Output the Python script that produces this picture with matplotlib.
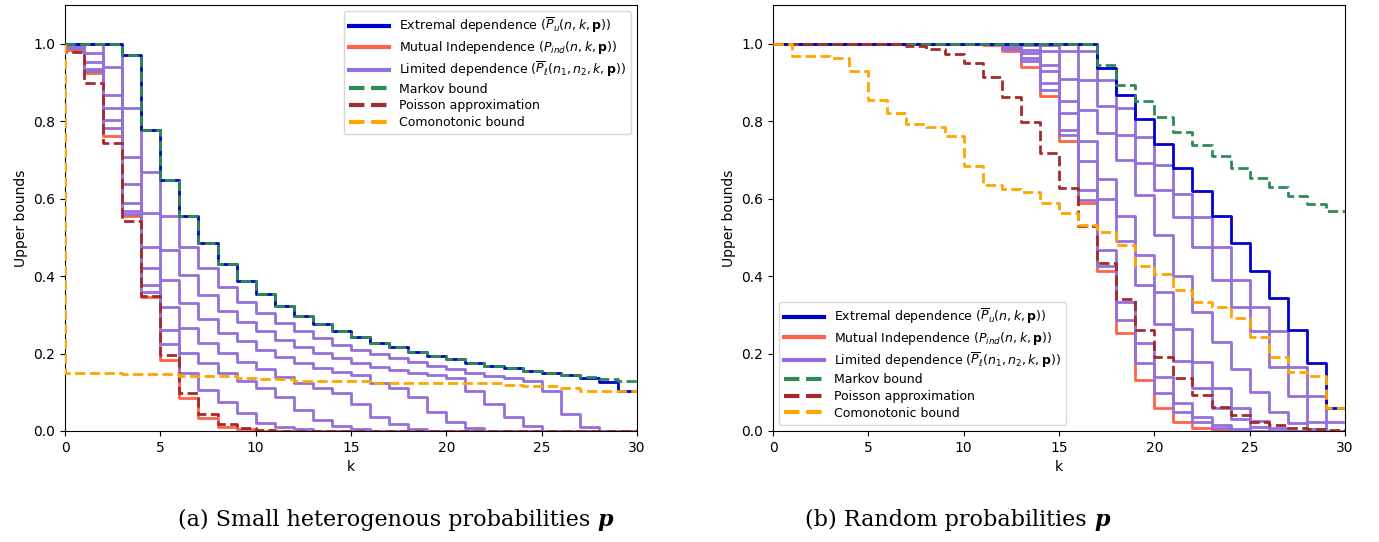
import numpy as np
import matplotlib.pyplot as plt
from matplotlib.lines import Line2D

# k = 0..30 ; each value is the bound for P(S >= k), drawn as a 'pre' step
k = np.arange(31)

# ---------------- (a) small heterogeneous probabilities ----------------
a_markov = [1.0, 1.0, 1.0, 1.0, 0.970, 0.776, 0.647, 0.554, 0.485, 0.431, 0.388,
            0.353, 0.323, 0.298, 0.277, 0.259, 0.243, 0.228, 0.216, 0.204, 0.194,
            0.185, 0.176, 0.169, 0.162, 0.155, 0.149, 0.144, 0.139, 0.134, 0.129]
a_extremal = [1.0, 1.0, 1.0, 1.0, 0.970, 0.776, 0.647, 0.554, 0.485, 0.431, 0.388,
              0.353, 0.323, 0.298, 0.277, 0.259, 0.243, 0.228, 0.216, 0.204, 0.194,
              0.185, 0.176, 0.169, 0.162, 0.155, 0.149, 0.144, 0.136, 0.126, 0.102]
a_indep = [1.0, 0.985, 0.924, 0.762, 0.556, 0.347, 0.183, 0.084, 0.033, 0.011, 0.004,
           0.001, 0, 0, 0, 0, 0, 0, 0, 0, 0, 0, 0, 0, 0, 0, 0, 0, 0, 0, 0]
a_poisson = [1.0, 0.979, 0.899, 0.743, 0.542, 0.348, 0.197, 0.099, 0.044, 0.018, 0.007,
             0.002, 0.001, 0, 0, 0, 0, 0, 0, 0, 0, 0, 0, 0, 0, 0, 0, 0, 0, 0, 0]
a_comon = [1.0, 0.150, 0.150, 0.150, 0.148, 0.148, 0.148, 0.141, 0.141, 0.141, 0.138,
           0.133, 0.133, 0.130, 0.130, 0.130, 0.130, 0.124, 0.124, 0.124, 0.124,
           0.124, 0.124, 0.124, 0.119, 0.115, 0.115, 0.110, 0.102, 0.102, 0.102]
a_limited = [
    [1.0, 1.0, 1.0, 1.0, 0.834, 0.668, 0.554, 0.476, 0.420, 0.371, 0.334,
     0.304, 0.278, 0.258, 0.239, 0.223, 0.210, 0.198, 0.188, 0.177, 0.168,
     0.159, 0.151, 0.142, 0.136, 0.128, 0.102, 0.044, 0.011, 0.0, 0.0],
    [1.0, 1.0, 1.0, 0.940, 0.707, 0.562, 0.468, 0.403, 0.351, 0.311, 0.282,
     0.257, 0.235, 0.216, 0.201, 0.188, 0.175, 0.166, 0.158, 0.151, 0.145,
     0.136, 0.103, 0.070, 0.037, 0.013, 0.0, 0.0, 0.0, 0.0, 0.0],
    [1.0, 0.998, 0.976, 0.868, 0.638, 0.475, 0.390, 0.330, 0.289, 0.252, 0.233,
     0.210, 0.190, 0.175, 0.162, 0.153, 0.145, 0.123, 0.110, 0.089, 0.050,
     0.022, 0.008, 0.0, 0.0, 0.0, 0.0, 0.0, 0.0, 0.0, 0.0],
    [1.0, 0.995, 0.954, 0.834, 0.588, 0.420, 0.321, 0.265, 0.227, 0.201, 0.177,
     0.160, 0.140, 0.125, 0.110, 0.097, 0.069, 0.037, 0.017, 0.005, 0.0,
     0.0, 0.0, 0.0, 0.0, 0.0, 0.0, 0.0, 0.0, 0.0, 0.0],
    [1.0, 0.990, 0.934, 0.804, 0.567, 0.377, 0.261, 0.202, 0.176, 0.150, 0.129,
     0.110, 0.089, 0.054, 0.028, 0.012, 0.004, 0.0, 0.0, 0.0, 0.0,
     0.0, 0.0, 0.0, 0.0, 0.0, 0.0, 0.0, 0.0, 0.0, 0.0],
    [1.0, 0.988, 0.930, 0.782, 0.560, 0.360, 0.225, 0.149, 0.106, 0.076, 0.046,
     0.020, 0.011, 0.004, 0.0, 0.0, 0.0, 0.0, 0.0, 0.0, 0.0,
     0.0, 0.0, 0.0, 0.0, 0.0, 0.0, 0.0, 0.0, 0.0, 0.0],
]

# ---------------- (b) random probabilities ----------------
b_markov = [1.0] * 18 + [0.946, 0.894, 0.851, 0.812, 0.773, 0.739, 0.709, 0.679,
                         0.653, 0.630, 0.606, 0.587, 0.567]
b_extremal = [1.0] * 18 + [0.937, 0.868, 0.806, 0.742, 0.679, 0.621, 0.556, 0.485,
                           0.414, 0.344, 0.261, 0.175, 0.059]
b_indep = [1.0] * 12 + [0.997, 0.980, 0.941, 0.866, 0.748, 0.588, 0.412, 0.252,
                        0.132, 0.059, 0.022, 0.007, 0.002, 0, 0, 0, 0, 0, 0]
b_poisson = [1.0] * 7 + [0.999, 0.995, 0.987, 0.973, 0.950, 0.913, 0.862, 0.799,
                         0.718, 0.627, 0.530, 0.433, 0.341, 0.261, 0.192, 0.136,
                         0.093, 0.063, 0.041, 0.024, 0.015, 0.008, 0.004, 0.002]
b_comon = [1.0, 1.0, 0.969, 0.969, 0.963, 0.929, 0.855, 0.821, 0.792, 0.784, 0.762,
           0.685, 0.636, 0.624, 0.616, 0.588, 0.562, 0.533, 0.515, 0.479, 0.425,
           0.406, 0.363, 0.332, 0.320, 0.291, 0.242, 0.190, 0.153, 0.142, 0.059]
b_limited = [
    [1.0] * 17 + [0.980, 0.907, 0.834, 0.760, 0.687, 0.612, 0.552, 0.476, 0.390,
                  0.320, 0.257, 0.166, 0.090, 0.022],
    [1.0] * 15 + [0.997, 0.980, 0.907, 0.838, 0.765, 0.692, 0.623, 0.552, 0.476,
                  0.390, 0.320, 0.257, 0.166, 0.090, 0.022, 0.0],
    [1.0] * 13 + [0.999, 0.997, 0.980, 0.909, 0.829, 0.770, 0.700, 0.610, 0.506,
                  0.399, 0.308, 0.230, 0.160, 0.100, 0.050, 0.020, 0.005, 0.0],
    [1.0] * 13 + [0.997, 0.985, 0.946, 0.851, 0.748, 0.650, 0.555, 0.455, 0.360,
                  0.263, 0.179, 0.110, 0.060, 0.025, 0.008, 0.0, 0.0, 0.0],
    [1.0] * 13 + [0.994, 0.975, 0.929, 0.821, 0.696, 0.600, 0.490, 0.377, 0.276,
                  0.180, 0.110, 0.060, 0.030, 0.010, 0.0, 0.0, 0.0, 0.0],
    [1.0] * 13 + [0.990, 0.962, 0.898, 0.778, 0.623, 0.468, 0.334, 0.227, 0.140,
                  0.073, 0.035, 0.015, 0.005, 0.0, 0.0, 0.0, 0.0, 0.0],
    [1.0] * 13 + [0.986, 0.955, 0.881, 0.765, 0.597, 0.425, 0.287, 0.175, 0.099,
                  0.050, 0.022, 0.008, 0.002, 0.0, 0.0, 0.0, 0.0, 0.0],
]

C_EXT = 'mediumblue'
C_IND = 'tomato'
C_LIM = 'mediumpurple'
C_MAR = 'seagreen'
C_POI = 'brown'
C_COM = 'orange'

legend_labels = [
    r'Extremal dependence ($\overline{P}_u(n,k,\mathbf{p})$)',
    r'Mutual Independence ($P_{ind}(n,k,\mathbf{p})$)',
    r'Limited dependence ($\overline{P}_\ell(n_1,n_2,k,\mathbf{p})$)',
    'Markov bound',
    'Poisson approximation',
    'Comonotonic bound',
]
legend_handles = [
    Line2D([], [], color=C_EXT, lw=3),
    Line2D([], [], color=C_IND, lw=3),
    Line2D([], [], color=C_LIM, lw=3),
    Line2D([], [], color=C_MAR, lw=3, ls='--'),
    Line2D([], [], color=C_POI, lw=3, ls='--'),
    Line2D([], [], color=C_COM, lw=3, ls='--'),
]


def draw_panel(ax, extremal, indep, limited, markov, poisson, comon, legend_loc):
    ax.step(k, indep, where='pre', color=C_IND, lw=2, zorder=2)
    for curve in limited:
        ax.step(k, curve, where='pre', color=C_LIM, lw=2, zorder=3)
    ax.step(k, extremal, where='pre', color=C_EXT, lw=2, zorder=4)
    ax.step(k, markov, where='pre', color=C_MAR, lw=2, ls='--', zorder=5)
    ax.step(k, poisson, where='pre', color=C_POI, lw=2, ls='--', zorder=5)
    ax.step(k, comon, where='pre', color=C_COM, lw=2, ls='--', zorder=5)
    ax.set_xlim(0, 30)
    ax.set_ylim(0, 1.1)
    ax.set_xticks([0, 5, 10, 15, 20, 25, 30])
    ax.set_yticks([0.0, 0.2, 0.4, 0.6, 0.8, 1.0])
    ax.tick_params(labelsize=10)
    ax.set_xlabel('k', fontsize=10)
    ax.set_ylabel('Upper bounds', fontsize=10)
    ax.legend(legend_handles, legend_labels, loc=legend_loc, fontsize=9,
              handlelength=3.2, labelspacing=0.3, framealpha=0.8)


fig = plt.figure(figsize=(13.79, 5.42), dpi=100)
ax_a = fig.add_axes([65 / 1379, 111 / 542, 572 / 1379, 426 / 542])
ax_b = fig.add_axes([773 / 1379, 111 / 542, 572 / 1379, 426 / 542])

draw_panel(ax_a, a_extremal, a_indep, a_limited, a_markov, a_poisson, a_comon,
           'upper right')
draw_panel(ax_b, b_extremal, b_indep, b_limited, b_markov, b_poisson, b_comon,
           'lower left')


def caption(x, text):
    t = fig.text(x, 0.04, text + ' ', ha='center', va='center', fontsize=16,
                 family='DejaVu Serif')
    fig.canvas.draw()
    bb = t.get_window_extent()
    w = bb.width / fig.bbox.width
    t.set_x(x - 0.006)
    fig.text(x - 0.006 + w / 2, 0.04, 'p', ha='left', va='center',
             fontsize=16, family='DejaVu Serif', style='italic', weight='bold')


caption(396 / 1379, '(a) Small heterogenous probabilities')
caption(958 / 1379, '(b) Random probabilities')

fig.savefig('out.png', dpi=100)
